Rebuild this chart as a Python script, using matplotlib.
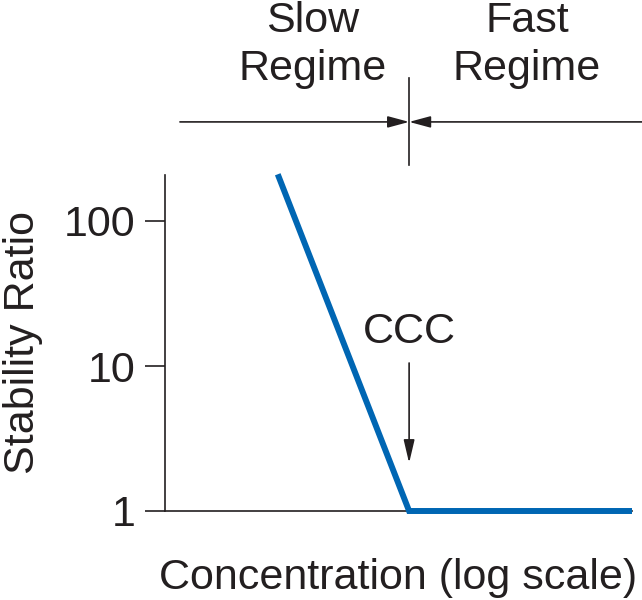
import matplotlib
matplotlib.use('Agg')
import matplotlib.pyplot as plt
from matplotlib.ticker import NullLocator

# Data (schematic): concentration on log scale, stability ratio on log scale
concentration = [0.0053, 0.037, 1.0]
stability_ratio = [210, 1, 1]
ccc = 0.037
yticks = [1, 10, 100]
ytick_labels = ['1', '10', '100']
regime_labels = ['Slow', 'Regime', 'Fast', 'Regime']

plt.rcParams['font.family'] = ['Liberation Sans', 'DejaVu Sans']
ink = '#231f20'
blue = '#0066b3'
fs = 31
lw_ink = 1.2

fig = plt.figure(figsize=(6.42, 6.0), dpi=100)
ax = fig.add_axes([165/642, 1 - 511/600, 467/642, 336/600])
ax.set_xscale('log')
ax.set_yscale('log')
ax.set_xlim(1e-3, 1)
ax.set_ylim(1, 10 ** (336 / 145))

ax.plot(concentration, stability_ratio, color=blue, lw=4.3,
        solid_capstyle='butt', solid_joinstyle='miter', clip_on=False, zorder=3)

for s in ['top', 'right']:
    ax.spines[s].set_visible(False)
for s in ['left', 'bottom']:
    ax.spines[s].set_color(ink)
    ax.spines[s].set_linewidth(lw_ink)

ax.set_xticks([])
ax.xaxis.set_minor_locator(NullLocator())
ax.set_yticks(yticks, ytick_labels)
ax.yaxis.set_minor_locator(NullLocator())
ax.tick_params(axis='y', length=14.4, width=lw_ink, pad=7, labelsize=fs,
               color=ink, labelcolor=ink)

ax.set_ylabel('Stability Ratio', fontsize=fs, color=ink, labelpad=15)
ax.set_xlabel('Concentration (log scale)', fontsize=fs, color=ink, labelpad=34)

# CCC arrow and label
ax.annotate('', xy=(ccc, 0.1429), xytext=(ccc, 0.4405),
            xycoords=('data', 'axes fraction'), textcoords=('data', 'axes fraction'),
            arrowprops=dict(arrowstyle='-|>,head_length=1.4,head_width=0.33',
                            mutation_scale=10, shrinkA=0, shrinkB=0, lw=lw_ink,
                            color=ink),
            annotation_clip=False)
ax.text(ccc, 0.5, 'CCC', transform=ax.get_xaxis_transform(), ha='center',
        va='baseline', fontsize=fs, color=ink)

# Regime divider
yarr = 1.158
ax.plot([ccc, ccc], [1.030, 1.289], transform=ax.get_xaxis_transform(),
        color=ink, lw=lw_ink, clip_on=False)
arrow_kw = dict(arrowstyle='-|>,head_length=1.3,head_width=0.35',
                mutation_scale=10, shrinkA=0, shrinkB=0, lw=lw_ink, color=ink)
ax.annotate('', xy=(ccc, yarr), xytext=(0.032, yarr),
            xycoords=('data', 'axes fraction'), textcoords='axes fraction',
            arrowprops=arrow_kw, annotation_clip=False)
ax.annotate('', xy=(ccc, yarr), xytext=(1.03, yarr),
            xycoords=('data', 'axes fraction'), textcoords='axes fraction',
            arrowprops=arrow_kw, annotation_clip=False)

for label, xf, yf in zip(regime_labels,
                         [0.317, 0.317, 0.775, 0.775],
                         [1.4256, 1.2827, 1.4256, 1.2827]):
    ax.text(xf, yf, label, transform=ax.transAxes, ha='center', va='baseline',
            fontsize=fs, color=ink)

fig.savefig('out.png', dpi=100)
